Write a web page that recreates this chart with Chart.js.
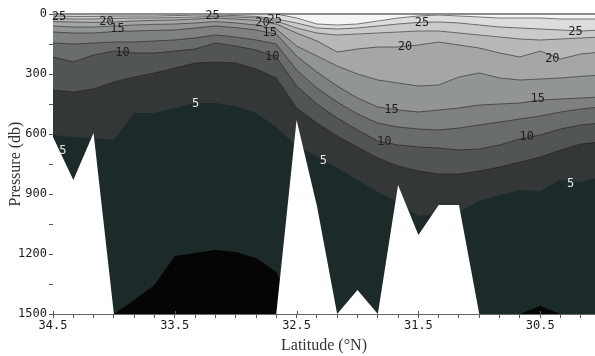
<!DOCTYPE html>
<html>
<head>
<meta charset="utf-8">
<script src="https://cdn.jsdelivr.net/npm/chart.js@4.4.1/dist/chart.umd.min.js"></script>
<style>
  html, body { margin: 0; padding: 0; background: #fff; }
  #wrap { width: 595px; height: 356px; }
</style>
</head>
<body>
<div id="wrap"><canvas id="section"></canvas></div>
<script>
// station latitudes (°N), north to south
const stationLat = [34.5, 34.333, 34.167, 34.0, 33.833, 33.667, 33.5, 33.333, 33.167, 33.0, 32.833, 32.667,
  32.5, 32.333, 32.167, 32.0, 31.833, 31.667, 31.5, 31.333, 31.167, 31.0, 30.833, 30.667, 30.5, 30.333, 30.167, 30.0];

// isotherm depths (db) at each station
const iso27_5 = [0, 0, 0, 0, 0, 0, 0, 0, 0, 0, 0, 0, 20, 50, 55, 50, 35, 20, 10, 5, 10, 15, 20, 20, 20, 25, 25, 25];
const iso25 = [10, 12, 12, 10, 10, 10, 8, 5, 5, 8, 12, 25, 45, 70, 75, 70, 60, 50, 42, 40, 45, 55, 65, 70, 75, 80, 85, 80];
const iso22_5 = [22, 25, 25, 22, 20, 20, 18, 15, 12, 15, 20, 35, 70, 95, 105, 100, 95, 90, 85, 85, 95, 105, 115, 125, 130, 125, 120, 115];
const iso20 = [38, 40, 42, 40, 35, 32, 30, 25, 20, 25, 32, 50, 95, 135, 190, 175, 165, 165, 155, 140, 155, 170, 195, 215, 185, 225, 200, 190];
const iso17_5 = [60, 65, 65, 60, 55, 52, 50, 45, 38, 45, 55, 75, 160, 210, 260, 300, 330, 345, 360, 355, 315, 295, 320, 330, 325, 320, 312, 305];
const iso15 = [90, 95, 95, 88, 85, 82, 80, 70, 60, 68, 80, 100, 210, 290, 360, 420, 465, 480, 490, 480, 470, 455, 450, 445, 430, 425, 420, 415];
const iso12_5 = [145, 150, 145, 140, 140, 135, 130, 120, 105, 115, 130, 150, 280, 370, 440, 500, 545, 565, 575, 580, 570, 555, 540, 525, 510, 490, 475, 465];
const iso10 = [215, 240, 205, 185, 195, 195, 185, 175, 145, 160, 180, 215, 360, 450, 520, 580, 635, 655, 665, 670, 680, 675, 655, 625, 605, 575, 555, 545];
const iso7_5 = [380, 390, 375, 340, 315, 295, 270, 245, 240, 245, 275, 320, 470, 545, 610, 665, 720, 760, 785, 800, 800, 785, 765, 740, 715, 680, 650, 640];
const iso5 = [605, 615, 620, 630, 495, 495, 470, 445, 445, 460, 495, 565, 660, 710, 770, 830, 890, 940, 1010, 1000, 990, 935, 905, 880, 885, 830, 840, 815];
const iso2_5 = [1500, 1500, 1500, 1500, 1430, 1355, 1210, 1195, 1180, 1190, 1220, 1290, 1500, 1500, 1500, 1500, 1500, 1500, 1500, 1500, 1500, 1500, 1500, 1500, 1460, 1500, 1500, 1500];

// deepest sampled pressure per station (below it: no data)
const castDepth = [615, 830, 595, 1500, 1500, 1500, 1500, 1500, 1500, 1500, 1500, 1500, 530, 960, 1500, 1380, 1500, 855, 1105, 955, 955, 1500, 1500, 1500, 1500, 1500, 1500, 1500];

const levels = [27.5, 25, 22.5, 20, 17.5, 15, 12.5, 10, 7.5, 5, 2.5];
const isotherms = [iso27_5, iso25, iso22_5, iso20, iso17_5, iso15, iso12_5, iso10, iso7_5, iso5, iso2_5];

// contour labels: [level, latitude, pressure]
const isoLabels = [
  [25, 34.45, 15], [20, 34.06, 40], [15, 33.97, 75], [10, 33.93, 195], [5, 34.42, 685],
  [25, 33.19, 8], [5, 33.33, 450], [20, 32.78, 45], [25, 32.68, 30], [15, 32.72, 95], [10, 32.70, 215],
  [25, 31.47, 45], [20, 31.61, 165], [15, 31.72, 480], [10, 31.78, 640], [5, 32.28, 735],
  [25, 30.21, 90], [20, 30.40, 225], [15, 30.52, 425], [10, 30.61, 615], [5, 30.25, 850]
];

const latLabels = [34.5, 33.5, 32.5, 31.5, 30.5];
const pressureLabels = [0, 300, 600, 900, 1200, 1500];

// band colours, warm -> cold (fill below each isotherm)
const bandColors = ['#dcdede', '#c9cbcb', '#b7b9b9', '#a5a7a7', '#929595', '#7e8181',
  '#696c6c', '#525555', '#343737', '#1c2b29', '#050505'];
const lineColors = ['rgba(90,90,90,0.8)', 'rgba(80,80,80,0.8)', 'rgba(80,80,80,0.8)', 'rgba(70,70,70,0.8)',
  'rgba(70,70,70,0.8)', 'rgba(60,60,60,0.8)', 'rgba(55,55,55,0.8)', 'rgba(45,45,45,0.8)',
  'rgba(35,35,35,0.7)', 'rgba(0,0,0,0)', 'rgba(0,0,0,0)'];

const toPoints = arr => arr.map((p, i) => ({ x: stationLat[i], y: p }));

const datasets = isotherms.map((arr, k) => ({
  label: String(levels[k]),
  data: toPoints(arr),
  borderColor: lineColors[k],
  borderWidth: 1,
  backgroundColor: bandColors[k],
  fill: { value: 1500 },
  pointRadius: 0,
  tension: 0
}));
datasets.push({
  label: 'no data',
  data: toPoints(castDepth),
  borderWidth: 0,
  borderColor: 'rgba(0,0,0,0)',
  backgroundColor: '#ffffff',
  fill: { value: 1500 },
  pointRadius: 0,
  tension: 0
});
// warm bands first, colder bands and the blank mask on top
datasets.forEach((d, i) => { d.order = datasets.length - i; });

const sectionDecor = {
  id: 'sectionDecor',
  beforeDatasetsDraw(chart) {
    const { ctx, chartArea: a } = chart;
    ctx.save();
    ctx.fillStyle = '#f3f4f4';
    ctx.fillRect(a.left, a.top, a.right - a.left, a.bottom - a.top);
    ctx.restore();
  },
  afterDatasetsDraw(chart) {
    const { ctx, chartArea: a, scales } = chart;
    ctx.save();
    // surface line
    ctx.strokeStyle = '#8c8c8c';
    ctx.lineWidth = 2;
    ctx.beginPath();
    ctx.moveTo(a.left, a.top);
    ctx.lineTo(a.right, a.top);
    ctx.stroke();
    // isotherm labels
    ctx.font = '12px "DejaVu Sans Mono", monospace';
    ctx.textAlign = 'center';
    ctx.textBaseline = 'middle';
    isoLabels.forEach(([lv, lat, p]) => {
      ctx.fillStyle = lv <= 5 ? '#e6e6e6' : '#1e1e1e';
      ctx.fillText(String(lv), scales.x.getPixelForValue(lat), scales.y.getPixelForValue(p));
    });
    ctx.restore();
  },
  afterDraw(chart) {
    // labelled latitude ticks cross the axis line
    const { ctx, chartArea: a, scales } = chart;
    ctx.save();
    ctx.strokeStyle = '#555';
    ctx.lineWidth = 1;
    ctx.beginPath();
    latLabels.forEach(l => {
      const x = Math.round(scales.x.getPixelForValue(l)) + 0.5;
      ctx.moveTo(x, a.bottom - 3);
      ctx.lineTo(x, a.bottom);
    });
    ctx.stroke();
    ctx.restore();
  }
};

new Chart(document.getElementById('section'), {
  type: 'line',
  data: { datasets },
  plugins: [sectionDecor],
  options: {
    responsive: true,
    maintainAspectRatio: false,
    animation: false,
    layout: { padding: { top: 14, right: 0, left: 0, bottom: 0 } },
    plugins: { legend: { display: false }, tooltip: { enabled: false } },
    scales: {
      x: {
        type: 'linear',
        reverse: true,
        min: 30.05,
        max: 34.5,
        z: 1,
        afterBuildTicks: scale => {
          scale.ticks = stationLat.filter(v => v >= scale.min && v <= scale.max).map(v => ({ value: v }));
        },
        afterFit: scale => { scale.height = 42; },
        grid: { drawOnChartArea: false, drawTicks: true, tickLength: 4, tickColor: '#555' },
        border: { color: '#666', width: 1 },
        ticks: {
          autoSkip: false,
          maxRotation: 0,
          padding: 1,
          color: '#1a1a1a',
          font: { family: '"DejaVu Sans Mono", monospace', size: 12 },
          callback: v => latLabels.some(l => Math.abs(l - v) < 1e-3) ? v.toFixed(1) : ''
        },
        title: {
          display: true,
          text: 'Latitude (°N)',
          color: '#333',
          font: { family: '"Liberation Serif", "DejaVu Serif", serif', size: 16 },
          padding: { top: 0, bottom: 1 }
        }
      },
      y: {
        type: 'linear',
        reverse: true,
        min: 0,
        max: 1500,
        z: 1,
        afterFit: scale => { scale.width = 53; },
        grid: { drawOnChartArea: false, drawTicks: true, tickLength: 4, tickColor: '#555' },
        border: { color: '#555', width: 1 },
        ticks: {
          stepSize: 150,
          padding: 2,
          color: '#1a1a1a',
          font: { family: '"DejaVu Sans Mono", monospace', size: 12 },
          callback: v => pressureLabels.includes(v) ? String(v) : ''
        },
        title: {
          display: true,
          text: 'Pressure (db)',
          color: '#333',
          font: { family: '"Liberation Serif", "DejaVu Serif", serif', size: 16 },
          padding: { top: 6, bottom: 0 }
        }
      }
    }
  }
});
</script>
</body>
</html>
